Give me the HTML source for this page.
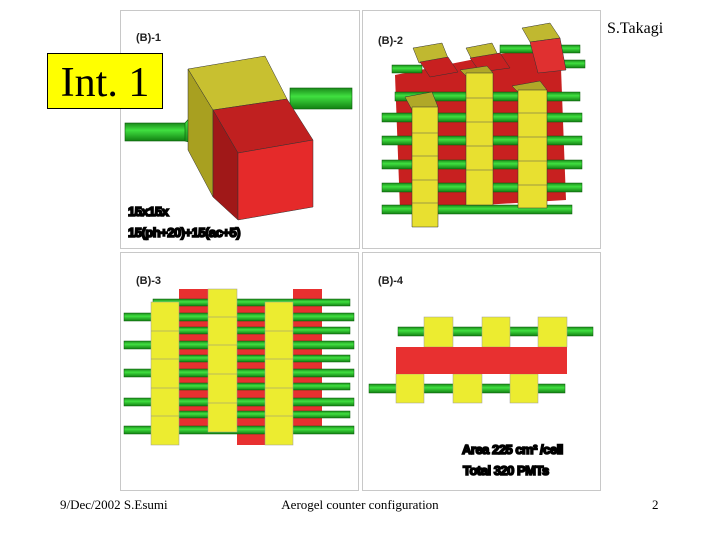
<!DOCTYPE html>
<html><head><meta charset="utf-8"><style>
html,body{margin:0;padding:0;background:#fff;}
body{width:720px;height:540px;position:relative;overflow:hidden;font-family:"Liberation Serif",serif;}
</style></head><body>
<svg width="720" height="540" viewBox="0 0 720 540" xmlns="http://www.w3.org/2000/svg" style="position:absolute;left:0;top:0">
<defs>
<linearGradient id="tg" x1="0" y1="0" x2="0" y2="1"><stop offset="0" stop-color="#1a8a1a"/><stop offset="0.4" stop-color="#40e040"/><stop offset="1" stop-color="#128012"/></linearGradient>
</defs>
<rect x="120.5" y="10.5" width="239" height="238" fill="#fff" stroke="#c8c8c8"/>
<rect x="362.5" y="10.5" width="238" height="238" fill="#fff" stroke="#c8c8c8"/>
<rect x="120.5" y="252.5" width="238" height="238" fill="#fff" stroke="#c8c8c8"/>
<rect x="362.5" y="252.5" width="238" height="238" fill="#fff" stroke="#c8c8c8"/>

<g font-family="Liberation Sans,sans-serif" font-weight="bold" font-size="11" fill="#222">
<text x="136" y="41">(B)-1</text><text x="378" y="44">(B)-2</text>
<text x="136" y="284">(B)-3</text><text x="378" y="284">(B)-4</text>
</g>

<!-- Panel 1 -->
<rect x="125" y="123" width="62" height="18" fill="url(#tg)" stroke="#0a5a0a" stroke-width="0.6"/>
<polygon points="185,123 200,106 200,145 185,141" fill="url(#tg)" stroke="#0a5a0a" stroke-width="0.6"/>
<rect x="290" y="88" width="62" height="21" fill="url(#tg)" stroke="#0a5a0a" stroke-width="0.6"/>
<polygon points="188,69 213,110 213,197 188,150" fill="#a8a020" stroke="#333" stroke-width="0.5"/>
<polygon points="188,69 265,56 287,99 213,110" fill="#c8c030" stroke="#333" stroke-width="0.5"/>
<polygon points="213,110 287,99 313,140 238,153" fill="#c02020" stroke="#333" stroke-width="0.5"/>
<polygon points="213,110 238,153 238,220 213,197" fill="#a01818" stroke="#333" stroke-width="0.5"/>
<polygon points="238,153 313,140 313,207 238,220" fill="#e52a2a" stroke="#333" stroke-width="0.5"/>
<g font-family="Liberation Sans,sans-serif" font-weight="bold" font-size="13" fill="#000" stroke="#000" stroke-width="1.6" letter-spacing="-0.5">
<text x="128" y="216">15x15x</text><text x="128" y="237">15(ph+20)+15(ac+5)</text>
</g>

<!-- Panel 2 -->
<polygon points="395,75 560,42 566,200 400,210" fill="#c82020"/>
<g fill="url(#tg)" stroke="#0a5a0a" stroke-width="0.5">
<rect x="392" y="65" width="30" height="8"/><rect x="500" y="45" width="80" height="8"/>
<rect x="545" y="60" width="40" height="8"/>
<rect x="382" y="113" width="200" height="9"/><rect x="382" y="136" width="200" height="9"/>
<rect x="382" y="160" width="200" height="9"/><rect x="382" y="183" width="200" height="9"/>
<rect x="382" y="205" width="190" height="9"/><rect x="395" y="92" width="185" height="9"/>
</g>
<g stroke="#333" stroke-width="0.5">
<polygon points="413,48 442,43 448,58 419,63" fill="#c0b830"/>
<polygon points="466,48 492,43 498,55 472,60" fill="#c0b830"/>
<polygon points="522,28 550,23 560,38 530,42" fill="#c0b830"/>
<polygon points="420,62 448,57 458,72 430,77" fill="#c82020"/>
<polygon points="470,58 500,53 510,68 480,72" fill="#c82020"/>
<polygon points="530,42 560,38 566,70 538,73" fill="#e03030"/>
<polygon points="405,97 432,92 438,107 412,110" fill="#b0a828"/>
<polygon points="412,107 438,107 438,227 412,227" fill="#e8e030"/>
<polygon points="460,70 487,66 493,73 466,76" fill="#b0a828"/>
<polygon points="466,73 493,73 493,205 466,205" fill="#e8e030"/>
<polygon points="512,86 540,81 547,90 518,92" fill="#b0a828"/>
<polygon points="518,90 547,90 547,208 518,208" fill="#e8e030"/>
</g>
<g stroke="#555" stroke-width="0.5">
<line x1="412" y1="133" x2="438" y2="133"/><line x1="412" y1="156" x2="438" y2="156"/><line x1="412" y1="180" x2="438" y2="180"/><line x1="412" y1="203" x2="438" y2="203"/>
<line x1="466" y1="98" x2="493" y2="98"/><line x1="466" y1="122" x2="493" y2="122"/><line x1="466" y1="146" x2="493" y2="146"/><line x1="466" y1="170" x2="493" y2="170"/>
<line x1="518" y1="113" x2="547" y2="113"/><line x1="518" y1="137" x2="547" y2="137"/><line x1="518" y1="161" x2="547" y2="161"/><line x1="518" y1="185" x2="547" y2="185"/>
</g>

<!-- Panel 3 -->
<rect x="179" y="289" width="29" height="143" fill="#e83030"/>
<rect x="237" y="302" width="28" height="143" fill="#e83030"/>
<rect x="293" y="289" width="29" height="138" fill="#e83030"/>
<g fill="url(#tg)" stroke="#0a5a0a" stroke-width="0.5">
<rect x="124" y="313" width="230" height="8"/><rect x="124" y="341" width="230" height="8"/>
<rect x="124" y="369" width="230" height="8"/><rect x="124" y="398" width="230" height="8"/>
<rect x="124" y="426" width="230" height="8"/>
<rect x="153" y="299" width="197" height="7"/><rect x="153" y="327" width="197" height="7"/>
<rect x="153" y="355" width="197" height="7"/><rect x="153" y="383" width="197" height="7"/>
<rect x="153" y="411" width="197" height="7"/>
</g>
<g fill="#ecec30" stroke="#999" stroke-width="0.5">
<rect x="151" y="302" width="28" height="143"/><rect x="208" y="289" width="29" height="143"/><rect x="265" y="302" width="28" height="143"/>
</g>
<g stroke="#888" stroke-width="0.5">
<line x1="151" y1="331" x2="179" y2="331"/><line x1="151" y1="359" x2="179" y2="359"/><line x1="151" y1="388" x2="179" y2="388"/><line x1="151" y1="416" x2="179" y2="416"/>
<line x1="208" y1="317" x2="237" y2="317"/><line x1="208" y1="345" x2="237" y2="345"/><line x1="208" y1="374" x2="237" y2="374"/><line x1="208" y1="403" x2="237" y2="403"/>
<line x1="265" y1="331" x2="293" y2="331"/><line x1="265" y1="359" x2="293" y2="359"/><line x1="265" y1="388" x2="293" y2="388"/><line x1="265" y1="416" x2="293" y2="416"/>
</g>

<!-- Panel 4 -->
<g fill="url(#tg)" stroke="#0a5a0a" stroke-width="0.5">
<rect x="398" y="327" width="195" height="9"/>
<rect x="369" y="384" width="196" height="9"/>
</g>
<g fill="#ecec30" stroke="#999" stroke-width="0.5">
<rect x="424" y="317" width="29" height="30"/><rect x="482" y="317" width="28" height="30"/><rect x="538" y="317" width="29" height="30"/>
<rect x="396" y="374" width="28" height="29"/><rect x="453" y="374" width="29" height="29"/><rect x="510" y="374" width="28" height="29"/>
</g>
<rect x="396" y="347" width="171" height="27" fill="#e83030"/>
<g font-family="Liberation Sans,sans-serif" font-weight="bold" font-size="13" fill="#000" stroke="#000" stroke-width="1.6" letter-spacing="-0.5">
<text x="462" y="454">Area 225 cm² /cell</text><text x="463" y="475">Total 320 PMTs</text>
</g>

<!-- Int. 1 -->
<rect x="47.5" y="53.5" width="115" height="55" fill="#ffff00" stroke="#000"/>
<text x="105" y="96" text-anchor="middle" font-size="42" fill="#000">Int. 1</text>
<text x="607" y="33" font-size="16" fill="#000">S.Takagi</text>
<g font-size="13" fill="#000">
<text x="60" y="509">9/Dec/2002 S.Esumi</text>
<text x="360" y="509" text-anchor="middle">Aerogel counter configuration</text>
<text x="652" y="509">2</text>
</g>
</svg>
</body></html>
